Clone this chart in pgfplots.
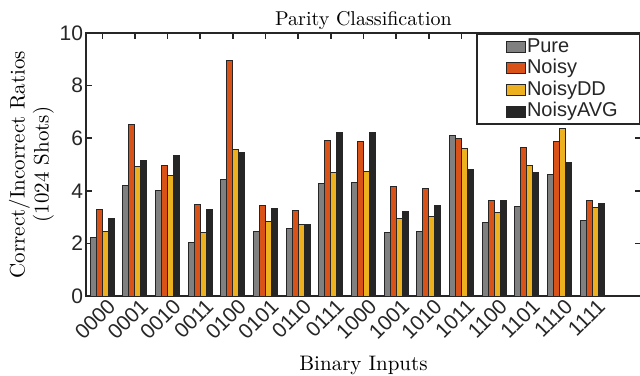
\documentclass[border=0pt]{standalone}
\usepackage{fontspec}
\usepackage{pgfplots}
\pgfplotsset{compat=1.18}
\newfontfamily\arial{Liberation Sans}
\definecolor{cPure}{HTML}{808080}
\definecolor{cNoisy}{HTML}{D95319}
\definecolor{cDD}{HTML}{EDB120}
\definecolor{cAVG}{HTML}{262626}
\definecolor{axc}{HTML}{262626}
\begin{document}
\begin{tikzpicture}
\begin{axis}[
  scale only axis,
  width=277.5pt, height=131.5pt,
  ybar=0pt, bar width=3pt,
  xmin=-0.5, xmax=16.5,
  ymin=0, ymax=10,
  xtick={0,...,15},
  xticklabels={0000,0001,0010,0011,0100,0101,0110,0111,1000,1001,1010,1011,1100,1101,1110,1111},
  ytick={0,2,4,6,8,10},
  /pgf/number format/assume math mode=true,
  tick label style={font=\arial\fontsize{10.5}{12}\selectfont, text=axc},
  xticklabel style={xshift=5.5pt, yshift=-2.5pt, rotate=45, anchor=east, inner sep=1pt},
  yticklabel style={xshift=2pt},
  tick align=inside,
  major tick length=3pt,
  tick style={line width=0.8pt, axc},
  axis line style={line width=1pt, axc},
  title={Parity Classification},
  title style={font=\fontsize{10}{12}\selectfont, yshift=-8pt},
  xlabel={Binary Inputs},
  xlabel style={font=\fontsize{10.5}{12}\selectfont, yshift=-2.5pt},
  ylabel={Correct/Incorrect Ratios\\(1024 Shots)},
  ylabel style={align=center, font=\fontsize{10.5}{12}\selectfont, yshift=-4pt},
  legend style={at={(1,1)}, anchor=north east, draw=axc, line width=1pt,
    inner xsep=0pt, inner ysep=1pt, fill=white,
    nodes={inner xsep=0.5pt, inner ysep=1pt, text height=7pt, text depth=1.8pt,
      text width=56pt, align=left, font=\arial\fontsize{10}{12}\selectfont, text=axc}},
  legend cell align=left,
  legend image code/.code={\path (-14.5pt,0pt); \draw[#1, line width=0.5pt] (0pt,-2.75pt) rectangle (9.5pt,2.75pt);},
  every axis plot/.append style={draw=black!85, line width=0.5pt},
]
\addplot[fill=cPure] coordinates {(0,2.22) (1,4.21) (2,4.02) (3,2.03) (4,4.42) (5,2.47) (6,2.57) (7,4.28) (8,4.33) (9,2.41) (10,2.46) (11,6.11) (12,2.80) (13,3.40) (14,4.63) (15,2.88)};
\addplot[fill=cNoisy] coordinates {(0,3.30) (1,6.53) (2,4.98) (3,3.49) (4,8.95) (5,3.43) (6,3.26) (7,5.92) (8,5.87) (9,4.18) (10,4.07) (11,5.97) (12,3.65) (13,5.65) (14,5.87) (15,3.64)};
\addplot[fill=cDD] coordinates {(0,2.45) (1,4.94) (2,4.58) (3,2.40) (4,5.56) (5,2.85) (6,2.71) (7,4.71) (8,4.75) (9,2.93) (10,3.02) (11,5.61) (12,3.17) (13,4.98) (14,6.36) (15,3.36)};
\addplot[fill=cAVG] coordinates {(0,2.93) (1,5.17) (2,5.36) (3,3.30) (4,5.45) (5,3.31) (6,2.72) (7,6.21) (8,6.21) (9,3.21) (10,3.43) (11,4.82) (12,3.64) (13,4.71) (14,5.06) (15,3.50)};
\legend{Pure,Noisy,NoisyDD,NoisyAVG}
\end{axis}
\pgfresetboundingbox
\path[use as bounding box] ([shift={(-43pt,-39.5pt)}]current axis.south west) rectangle ([shift={(-0.5pt,16.5pt)}]current axis.north east);
\end{tikzpicture}
\end{document}
